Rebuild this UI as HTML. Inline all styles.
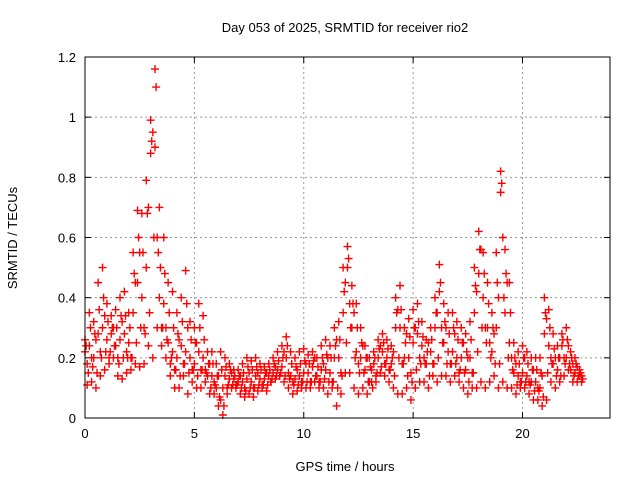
<!DOCTYPE html>
<html><head><meta charset="utf-8"><style>
body{margin:0;background:#fff}
svg text{font-family:"Liberation Sans",sans-serif;font-size:13px;fill:#000}
</style></head><body>
<svg id="chart" width="640" height="480">
<text x="345" y="32" text-anchor="middle">Day 053 of 2025, SRMTID for receiver rio2</text>
<text x="345" y="471" text-anchor="middle">GPS time / hours</text>
<text transform="translate(17,238) rotate(-90)" text-anchor="middle">SRMTID / TECUs</text>
<g id="grid"></g><g id="ticks"></g><g id="pts"></g>
<rect x="85" y="57" width="525" height="361" fill="none" stroke="#000"/>
</svg>
<script>
const xTicks=[0,5,10,15,20];
const yTicks=[0,0.2,0.4,0.6,0.8,1,1.2];
const yTickLabels=["0","0.2","0.4","0.6","0.8","1","1.2"];
const tStart=0, tStep=0.2;
const hiVals=[0.26,0.35,0.32,0.45,0.5,0.38,0.34,0.36,0.4,0.42,
0.35,0.55,0.69,0.68,0.79,0.99,1.16,0.7,0.6,0.45,
0.42,0.35,0.4,0.49,0.32,0.3,0.38,0.34,0.22,0.22,
0.18,0.22,0.2,0.18,0.16,0.16,0.18,0.2,0.19,0.2,
0.18,0.17,0.18,0.2,0.22,0.24,0.27,0.22,0.2,0.22,
0.23,0.21,0.22,0.2,0.24,0.26,0.24,0.3,0.32,0.5,
0.57,0.44,0.38,0.3,0.24,0.2,0.22,0.26,0.28,0.26,
0.24,0.4,0.44,0.3,0.33,0.36,0.38,0.32,0.26,0.3,
0.4,0.51,0.38,0.35,0.35,0.32,0.3,0.28,0.32,0.5,
0.62,0.55,0.45,0.35,0.55,0.82,0.56,0.45,0.25,0.22,
0.24,0.22,0.2,0.2,0.2,0.4,0.36,0.28,0.24,0.28,
0.3,0.22,0.2,0.16];
const q3Vals=[0.24,0.3,0.28,0.36,0.4,0.32,0.3,0.3,0.34,0.34,
0.3,0.48,0.6,0.55,0.68,0.92,1.1,0.5,0.48,0.35,
0.3,0.28,0.32,0.38,0.26,0.25,0.3,0.26,0.18,0.18,
0.14,0.16,0.17,0.16,0.14,0.14,0.15,0.17,0.16,0.17,
0.16,0.15,0.16,0.18,0.19,0.2,0.24,0.18,0.17,0.18,
0.19,0.18,0.19,0.17,0.2,0.21,0.2,0.24,0.26,0.42,
0.53,0.38,0.3,0.25,0.2,0.17,0.2,0.23,0.25,0.23,
0.2,0.35,0.36,0.25,0.27,0.3,0.32,0.27,0.22,0.26,
0.35,0.45,0.32,0.28,0.3,0.26,0.25,0.22,0.26,0.44,
0.56,0.48,0.38,0.3,0.45,0.78,0.48,0.35,0.2,0.18,
0.2,0.18,0.16,0.16,0.15,0.35,0.3,0.23,0.2,0.26,
0.26,0.2,0.18,0.15];
const midVals=[0.22,0.24,0.2,0.28,0.3,0.26,0.28,0.24,0.26,0.28,
0.25,0.35,0.45,0.4,0.5,0.88,0.9,0.4,0.38,0.25,
0.22,0.2,0.24,0.22,0.2,0.18,0.22,0.2,0.14,0.14,
0.1,0.06,0.14,0.13,0.13,0.12,0.12,0.13,0.12,0.14,
0.13,0.13,0.14,0.15,0.16,0.17,0.2,0.14,0.13,0.14,
0.15,0.15,0.17,0.14,0.16,0.16,0.15,0.2,0.2,0.35,
0.5,0.3,0.22,0.2,0.16,0.12,0.18,0.2,0.22,0.2,
0.18,0.3,0.3,0.2,0.2,0.25,0.28,0.24,0.18,0.22,
0.3,0.42,0.25,0.22,0.22,0.2,0.2,0.16,0.2,0.35,
0.48,0.4,0.3,0.22,0.3,0.75,0.35,0.25,0.15,0.14,
0.15,0.14,0.12,0.12,0.1,0.28,0.24,0.18,0.16,0.24,
0.2,0.16,0.15,0.14];
const mid2Vals=[0.18,0.2,0.26,0.22,0.34,0.2,0.3,0.2,0.32,0.22,
0.2,0.45,0.55,0.3,0.7,0.95,0.6,0.3,0.3,0.18,
0.16,0.26,0.18,0.3,0.16,0.25,0.16,0.16,0.18,0.12,
0.14,0.1,0.1,0.15,0.11,0.14,0.1,0.15,0.1,0.15,
0.11,0.15,0.12,0.17,0.14,0.22,0.15,0.12,0.16,0.12,
0.18,0.12,0.2,0.12,0.18,0.2,0.12,0.26,0.15,0.45,
0.38,0.35,0.18,0.24,0.2,0.16,0.14,0.24,0.18,0.16,
0.22,0.36,0.18,0.28,0.15,0.3,0.2,0.2,0.25,0.18,
0.35,0.3,0.3,0.18,0.28,0.15,0.25,0.2,0.15,0.42,
0.56,0.3,0.25,0.28,0.4,0.6,0.45,0.2,0.18,0.12,
0.2,0.12,0.16,0.1,0.14,0.33,0.2,0.2,0.2,0.2,
0.24,0.18,0.17,0.14];
const q1Vals=[0.15,0.17,0.15,0.2,0.22,0.22,0.24,0.18,0.2,0.2,
0.2,0.25,0.3,0.28,0.35,0.6,0.55,0.3,0.26,0.2,
0.16,0.14,0.18,0.15,0.16,0.14,0.16,0.15,0.1,0.11,
0.07,0.04,0.11,0.11,0.11,0.1,0.09,0.1,0.1,0.11,
0.11,0.11,0.13,0.14,0.15,0.14,0.13,0.11,0.11,0.12,
0.12,0.12,0.14,0.12,0.13,0.12,0.12,0.1,0.14,0.25,
0.3,0.2,0.15,0.15,0.12,0.1,0.15,0.17,0.18,0.16,
0.14,0.2,0.18,0.14,0.12,0.16,0.18,0.18,0.14,0.18,
0.2,0.25,0.18,0.18,0.18,0.16,0.15,0.12,0.15,0.22,
0.3,0.25,0.2,0.18,0.18,0.4,0.2,0.16,0.11,0.12,
0.12,0.11,0.09,0.09,0.07,0.15,0.18,0.14,0.14,0.18,
0.18,0.14,0.14,0.13];
const loVals=[0.11,0.12,0.1,0.14,0.16,0.18,0.2,0.14,0.13,0.15,
0.16,0.18,0.17,0.18,0.24,0.2,0.3,0.24,0.2,0.14,
0.1,0.1,0.14,0.08,0.12,0.1,0.1,0.12,0.08,0.08,
0.04,0.01,0.08,0.1,0.1,0.08,0.07,0.08,0.07,0.09,
0.1,0.09,0.12,0.13,0.14,0.12,0.1,0.08,0.09,0.1,
0.1,0.1,0.12,0.1,0.1,0.08,0.1,0.04,0.08,0.15,
0.15,0.1,0.08,0.1,0.08,0.12,0.12,0.15,0.14,0.12,
0.1,0.08,0.08,0.1,0.06,0.1,0.12,0.12,0.1,0.14,
0.12,0.14,0.14,0.12,0.14,0.12,0.1,0.08,0.1,0.1,
0.12,0.1,0.12,0.14,0.1,0.12,0.1,0.1,0.08,0.1,
0.1,0.08,0.06,0.06,0.04,0.06,0.12,0.1,0.12,0.14,
0.16,0.12,0.12,0.12];
const NS="http://www.w3.org/2000/svg";
const X0=85,X1=610,Y0=418,Y1=57,XMAX=24,YMAX=1.2;
function xs(t){return X0+(X1-X0)*t/XMAX;}
function ys(v){return Y0-(Y0-Y1)*v/YMAX;}
function mk(tag,attrs,parent){const e=document.createElementNS(NS,tag);for(const k in attrs)e.setAttribute(k,attrs[k]);parent.appendChild(e);return e;}
const grid=document.getElementById('grid'),ticks=document.getElementById('ticks'),pts=document.getElementById('pts');
xTicks.forEach(t=>{const x=xs(t);
 if(t>0){const g=mk('line',{x1:x,x2:x,y1:Y1,y2:Y0,stroke:'#999','stroke-dasharray':'2,3'},grid);
 
 }
 mk('line',{x1:x,x2:x,y1:Y0,y2:Y0-6,stroke:'#000'},ticks);
 mk('line',{x1:x,x2:x,y1:Y1,y2:Y1+6,stroke:'#000'},ticks);
 const l=mk('text',{x:x,y:Y0+20,'text-anchor':'middle'},ticks);l.textContent=t;
 
 });
yTicks.forEach((v,i)=>{const y=ys(v);
 if(v>0&&v<YMAX){const g=mk('line',{x1:X0,x2:X1,y1:y,y2:y,stroke:'#999','stroke-dasharray':'2,3'},grid);
 
 }
 mk('line',{x1:X0,x2:X0+6,y1:y,y2:y,stroke:'#000'},ticks);
 mk('line',{x1:X1,x2:X1-6,y1:y,y2:y,stroke:'#000'},ticks);
 const l=mk('text',{x:X0-9,y:y+5,'text-anchor':'end'},ticks);l.textContent=yTickLabels[i];
 
 });
function plus(t,v,col){const x=xs(t),y=ys(v);
 const p=mk('path',{d:`M${x-4},${y}h8M${x},${y-4}v8`,stroke:col,'stroke-width':1.4,fill:'none'},pts);
 
 }
[[hiVals,0],[q3Vals,0.05],[midVals,0],[mid2Vals,0.1],[q1Vals,0.15],[loVals,0.1]].forEach(([arr,off])=>{
 arr.forEach((v,i)=>plus(tStart+tStep*i+off,v,'#f00'));});
</script>
</body></html>
